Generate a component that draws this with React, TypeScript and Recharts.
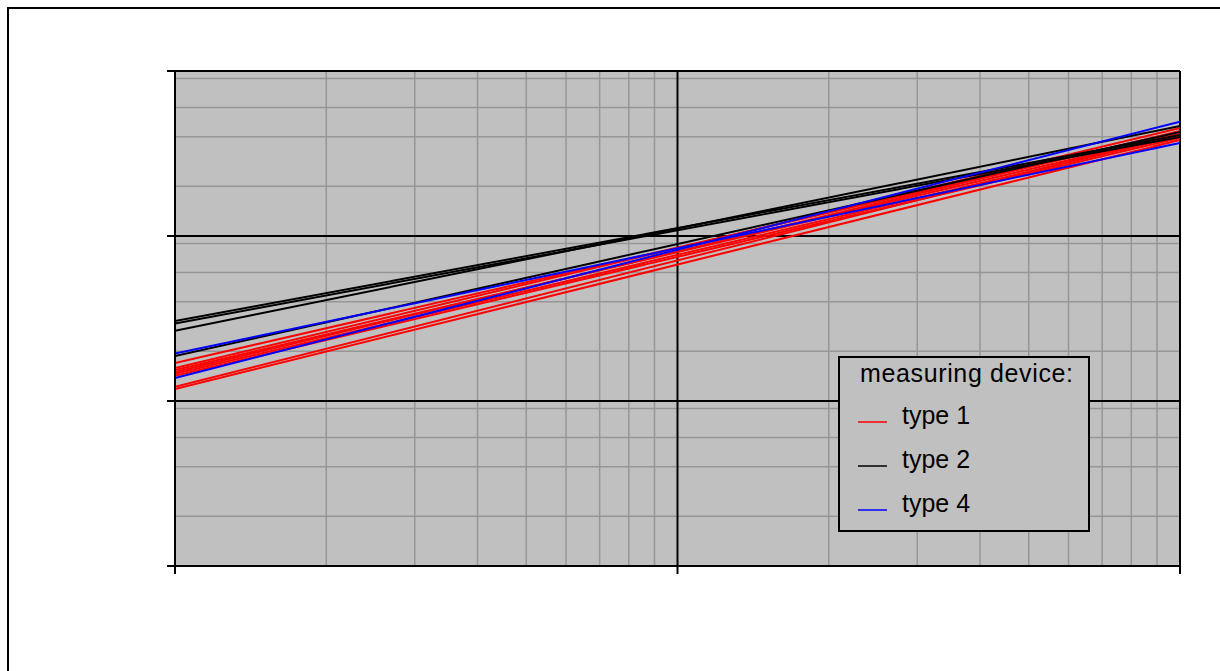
import React from 'react';
import { LineChart, Line, XAxis, YAxis, CartesianGrid, ReferenceLine } from 'recharts';

// axes (log-log, unlabeled)
const xMajorTicks = [1, 10, 100];
const xMinorTicks = [2, 3, 4, 5, 6, 7, 8, 9, 20, 30, 40, 50, 60, 70, 80, 90];
const yMajorTicks = [1, 10, 100, 1000];
const yMinorTicks = [2, 3, 4, 5, 6, 7, 8, 9, 20, 30, 40, 50, 60, 70, 80, 90, 200, 300, 400, 500, 600, 700, 800, 900];

// each curve is a straight line in log-log: value at x = 1 and at x = 100
const xEnds = [1, 100];
const type1Start = [17.0, 15.85, 15.4, 15.0, 14.6, 14.2, 12.2, 11.8];
const type1End = [427, 451, 415, 433, 404, 393, 415, 382];
const type2Start = [30.5, 29.5, 26.6, 18.7];
const type2End = [409, 398, 464, 427];
const type4Start = [19.4, 13.8];
const type4End = [366, 493];

const legendTitle = 'measuring device:';
const legendItems = [
  { name: 'type 1', color: '#ff0000' },
  { name: 'type 2', color: '#000000' },
  { name: 'type 4', color: '#0000ff' },
];

type Pt = { x: number; y: number };
const build = (s: number[], e: number[]): Pt[][] =>
  s.map((v, i) => [
    { x: xEnds[0], y: v },
    { x: xEnds[1], y: e[i] },
  ]);

const groups = [
  { color: '#ff0000', series: build(type1Start, type1End), key: 't1' },
  { color: '#000000', series: build(type2Start, type2End), key: 't2' },
  { color: '#0000ff', series: build(type4Start, type4End), key: 't4' },
];

const FONT = '"Liberation Sans", Arial, Helvetica, sans-serif';
const NoTick = () => <g />;

export default function App() {
  return (
    <div style={{ position: 'relative', width: 1204, height: 655, fontFamily: FONT }}>
      <div
        style={{
          position: 'fixed',
          left: 7,
          top: 7,
          width: 3000,
          height: 3000,
          borderLeft: '2px solid #000',
          borderTop: '2px solid #000',
          boxSizing: 'border-box',
          pointerEvents: 'none',
        }}
      />
      <LineChart
        width={1204}
        height={655}
        margin={{ top: 63, left: 166, right: 32, bottom: 96 }}
      >
        <XAxis
          xAxisId="minor"
          type="number"
          dataKey="x"
          scale="log"
          domain={[1, 100]}
          allowDataOverflow
          ticks={xMinorTicks}
          hide
        />
        <YAxis
          yAxisId="minor"
          type="number"
          dataKey="y"
          scale="log"
          domain={[1, 1000]}
          allowDataOverflow
          ticks={yMinorTicks}
          hide
        />
        <XAxis
          xAxisId="major"
          type="number"
          dataKey="x"
          scale="log"
          domain={[1, 100]}
          allowDataOverflow
          ticks={xMajorTicks}
          interval={0}
          tick={NoTick}
          height={1}
          tickSize={8}
          axisLine={{ stroke: '#000', strokeWidth: 2 }}
          tickLine={{ stroke: '#000', strokeWidth: 2 }}
        />
        <YAxis
          yAxisId="major"
          type="number"
          dataKey="y"
          scale="log"
          domain={[1, 1000]}
          allowDataOverflow
          ticks={yMajorTicks}
          interval={0}
          tick={NoTick}
          width={1}
          tickSize={8}
          axisLine={{ stroke: '#000', strokeWidth: 2 }}
          tickLine={{ stroke: '#000', strokeWidth: 2 }}
        />
        <CartesianGrid
          xAxisId="minor"
          yAxisId="minor"
          stroke="#969696"
          strokeWidth={1.5}
          fill="#c0c0c0"
          fillOpacity={1}
        />
        {xMajorTicks.map((v) => (
          <ReferenceLine
            key={`vx${v}`}
            xAxisId="major"
            yAxisId="major"
            x={v}
            stroke="#000"
            strokeWidth={2}
            ifOverflow="visible"
          />
        ))}
        {yMajorTicks.map((v) => (
          <ReferenceLine
            key={`hy${v}`}
            xAxisId="major"
            yAxisId="major"
            y={v}
            stroke="#000"
            strokeWidth={2}
            ifOverflow="visible"
          />
        ))}
        {groups.map((g) =>
          g.series.map((d, i) => (
            <Line
              key={`${g.key}-${i}`}
              xAxisId="major"
              yAxisId="major"
              data={d}
              dataKey="y"
              type="linear"
              stroke={g.color}
              strokeWidth={2}
              dot={false}
              activeDot={false}
              isAnimationActive={false}
            />
          ))
        )}
      </LineChart>
      <div
        style={{
          position: 'absolute',
          left: 830,
          top: 348,
          width: 252,
          height: 176,
          background: '#c0c0c0',
          border: '2px solid #000',
          boxSizing: 'border-box',
        }}
      >
        <svg width={252} height={176} style={{ position: 'absolute', left: -2, top: -2 }}>
          <text x={22} y={25.5} fontSize={25} fontFamily={FONT} fill="#000" textLength={213} lengthAdjust="spacing">
            {legendTitle}
          </text>
          {legendItems.map((it, i) => (
            <g key={it.name}>
              <line x1={20} x2={49} y1={66 + i * 44} y2={66 + i * 44} stroke={it.color} strokeWidth={1.5} />
              <text x={64} y={68 + i * 44} fontSize={25} fontFamily={FONT} fill="#000">
                {it.name}
              </text>
            </g>
          ))}
        </svg>
      </div>
    </div>
  );
}
